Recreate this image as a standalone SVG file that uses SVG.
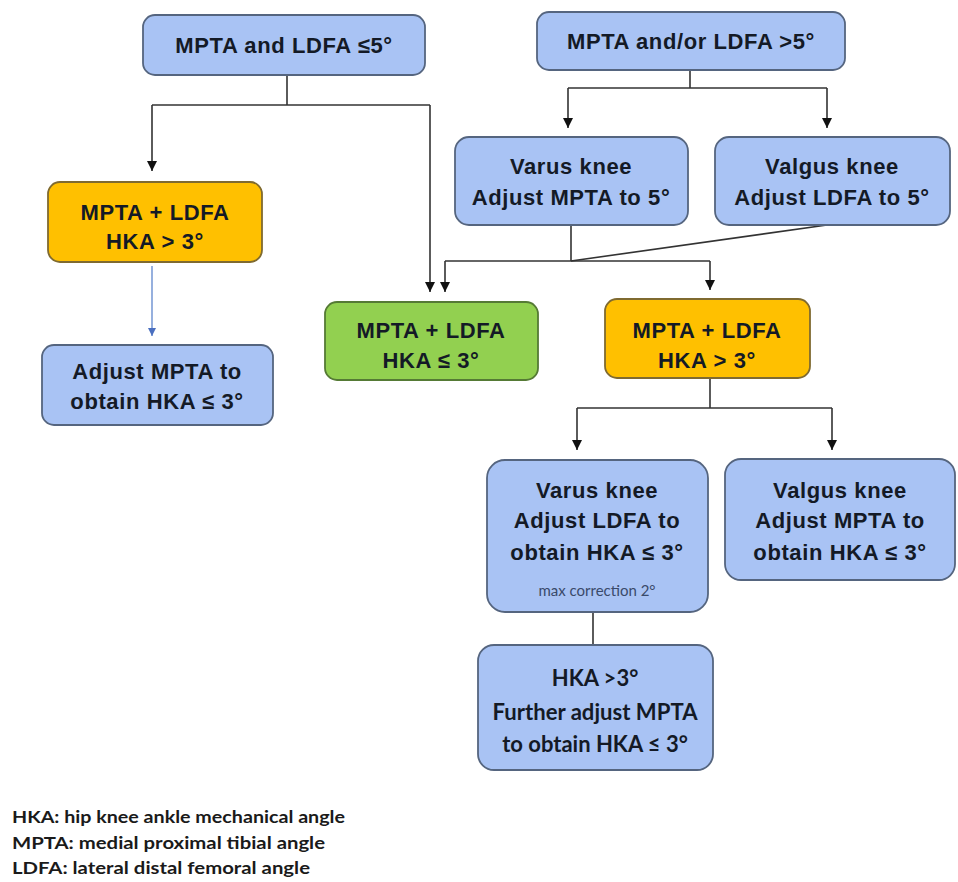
<svg xmlns="http://www.w3.org/2000/svg" width="958" height="882" viewBox="0 0 958 882">
<defs>
<marker id="ah" markerUnits="userSpaceOnUse" markerWidth="10" markerHeight="10" refX="10" refY="5" orient="auto">
<path d="M0,0 L10,5 L0,10 z" fill="#111"/>
</marker>
<marker id="ahb" markerUnits="userSpaceOnUse" markerWidth="8" markerHeight="8" refX="8" refY="4" orient="auto">
<path d="M0,0 L8,4 L0,8 z" fill="#4a6fc0"/>
</marker>
</defs>
<style>
.blue{fill:#a9c3f4;stroke:#55657f;stroke-width:1.8}
.orange{fill:#ffc000;stroke:#7f6a30;stroke-width:1.8}
.green{fill:#92d050;stroke:#557a35;stroke-width:1.8}
.t{font-family:"Liberation Sans",Arial,sans-serif;font-weight:bold;font-size:22px;fill:#141a26;text-anchor:middle;letter-spacing:0.6px}
.c{font-family:Lato,"Open Sans",sans-serif;font-weight:bold;font-size:22px;fill:#141a26;text-anchor:middle}
.s{font-family:Lato,"Open Sans",sans-serif;font-size:15px;fill:#3a4a6a;text-anchor:middle}
.leg{font-family:Lato,"Open Sans",sans-serif;font-weight:bold;font-size:17px;fill:#1a1a1a}
.ln{fill:none;stroke:#333;stroke-width:1.6}
</style>
<rect width="958" height="882" fill="#fff"/>

<g id="connectors">
<polyline class="ln" points="287,75 287,105"/>
<polyline class="ln" points="152,105 430,105"/>
<polyline class="ln" points="152,105 152,171" marker-end="url(#ah)"/>
<polyline class="ln" points="430,105 430,292" marker-end="url(#ah)"/>
<polyline class="ln" points="690,70 690,88"/>
<polyline class="ln" points="568,88 827,88"/>
<polyline class="ln" points="568,88 568,128" marker-end="url(#ah)"/>
<polyline class="ln" points="827,88 827,128" marker-end="url(#ah)"/>
<polyline class="ln" points="571,225 571,261"/>
<polyline class="ln" points="827,225 571,261"/>
<polyline class="ln" points="445,261 710,261"/>
<polyline class="ln" points="445,261 445,292" marker-end="url(#ah)"/>
<polyline class="ln" points="710,261 710,290" marker-end="url(#ah)"/>
<polyline class="ln" points="710,378 710,408"/>
<polyline class="ln" points="577,408 832,408"/>
<polyline class="ln" points="577,408 577,450" marker-end="url(#ah)"/>
<polyline class="ln" points="832,408 832,450" marker-end="url(#ah)"/>
<polyline class="ln" points="593,612 593,645"/>
<polyline points="152,266 152,336" fill="none" stroke="#6a8fd0" stroke-width="1.4" marker-end="url(#ahb)"/>
</g>

<g id="n1">
<rect class="blue" x="143" y="15" width="282" height="60" rx="12"/>
<text class="t" x="284" y="53">MPTA and LDFA ≤5°</text>
</g>
<g id="n2">
<rect class="blue" x="537" y="12" width="308" height="58" rx="12"/>
<text class="t" x="691" y="49">MPTA and/or LDFA &gt;5°</text>
</g>
<g id="n3">
<rect class="blue" x="455" y="137" width="233" height="88" rx="14"/>
<text class="t" x="571" y="174">Varus knee</text>
<text class="t" x="571" y="205">Adjust MPTA to 5°</text>
</g>
<g id="n4">
<rect class="blue" x="715" y="137" width="235" height="88" rx="14"/>
<text class="t" x="832" y="174">Valgus knee</text>
<text class="t" x="832" y="205">Adjust LDFA to 5°</text>
</g>
<g id="n5">
<rect class="orange" x="48" y="182" width="214" height="80" rx="12"/>
<text class="t" x="155" y="220">MPTA + LDFA</text>
<text class="t" x="155" y="249">HKA &gt; 3°</text>
</g>
<g id="n6">
<rect class="blue" x="42" y="345" width="231" height="80" rx="12"/>
<text class="t" x="157" y="379">Adjust MPTA to</text>
<text class="t" x="157" y="409">obtain HKA ≤ 3°</text>
</g>
<g id="n7">
<rect class="green" x="325" y="302" width="213" height="78" rx="12"/>
<text class="t" x="431" y="338">MPTA + LDFA</text>
<text class="t" x="431" y="368">HKA ≤ 3°</text>
</g>
<g id="n8">
<rect class="orange" x="605" y="299" width="205" height="79" rx="12"/>
<text class="t" x="707" y="338">MPTA + LDFA</text>
<text class="t" x="707" y="368">HKA &gt; 3°</text>
</g>
<g id="n9">
<rect class="blue" x="487" y="460" width="221" height="152" rx="18"/>
<text class="t" x="597" y="498">Varus knee</text>
<text class="t" x="597" y="528">Adjust LDFA to</text>
<text class="t" x="597" y="560">obtain HKA  ≤ 3°</text>
<text class="s" x="597" y="596">max correction 2°</text>
</g>
<g id="n10">
<rect class="blue" x="725" y="459" width="230" height="121" rx="16"/>
<text class="t" x="840" y="498">Valgus knee</text>
<text class="t" x="840" y="528">Adjust MPTA to</text>
<text class="t" x="840" y="560">obtain HKA ≤ 3°</text>
</g>
<g id="n11">
<rect class="blue" x="478" y="645" width="235" height="125" rx="16"/>
<text class="c" x="595" y="686">HKA &gt;3°</text>
<text class="c" x="595" y="720" textLength="205" lengthAdjust="spacingAndGlyphs">Further adjust MPTA</text>
<text class="c" x="595" y="752">to obtain HKA ≤ 3°</text>
</g>
<g id="legend">
<text class="leg" x="12" y="823" textLength="333" lengthAdjust="spacingAndGlyphs">HKA: hip knee ankle mechanical angle</text>
<text class="leg" x="12" y="849" textLength="313" lengthAdjust="spacingAndGlyphs">MPTA: medial proximal tibial angle</text>
<text class="leg" x="12" y="874" textLength="298" lengthAdjust="spacingAndGlyphs">LDFA: lateral distal femoral angle</text>
</g>
</svg>
